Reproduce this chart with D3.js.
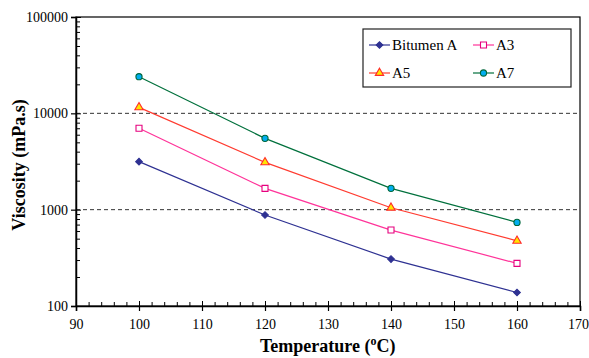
<!DOCTYPE html>
<html><head><meta charset="utf-8">
<script src="https://cdn.jsdelivr.net/npm/d3@7"></script>
<style>body{margin:0;background:#fff}svg{display:block}</style>
</head><body>
<script>
const temps = [100, 120, 140, 160];
const bitumenA = [3150, 880, 307, 138];
const a3 = [6990, 1664, 614, 277];
const a5 = [11540, 3100, 1047, 475];
const a7 = [24000, 5500, 1664, 738];
const seriesNames = ["Bitumen A", "A3", "A5", "A7"];
const xTicks = [90, 100, 110, 120, 130, 140, 150, 160, 170];
const yTicks = [100, 1000, 10000, 100000];
const gridValues = [1000, 10000];

const W = 589, H = 358;
const m = {l: 76, t: 17, r: 580, b: 306};
const serif = "Liberation Serif";
const svg = d3.select("body").append("svg").attr("width", W).attr("height", H)
  .attr("font-family", serif).style("font-family", serif);
const x = d3.scaleLinear().domain([90, 170]).range([m.l, m.r]);
const y = d3.scaleLog().domain([100, 100000]).range([m.b, m.t]);

// grid
svg.selectAll(".grid").data(gridValues).enter().append("line")
  .attr("x1", m.l).attr("x2", m.r).attr("y1", d => y(d)).attr("y2", d => y(d))
  .attr("stroke", "#333").attr("stroke-width", 1).attr("stroke-dasharray", "4,3");

// frame
svg.append("rect").attr("x", m.l).attr("y", m.t).attr("width", m.r - m.l).attr("height", m.b - m.t)
  .attr("fill", "none").attr("stroke", "#000").attr("stroke-width", 1.2);

// y axis major + minor
const yAxis = d3.axisLeft(y).tickValues(yTicks).tickFormat(d3.format("d")).tickSize(5).tickPadding(3);
const gy = svg.append("g").attr("transform", `translate(${m.l},0)`).call(yAxis)
  .attr("font-family", serif).attr("font-size", 14);
gy.select(".domain").attr("stroke-width", 1.5);
gy.selectAll(".tick line").attr("stroke-width", 1.2);
gy.selectAll(".tick text").attr("font-family", serif).style("font-family", serif).style("font-size", "14px").attr("fill", "#000");
const yMinor = [];
for (let dec = 100; dec < 100000; dec *= 10) for (let k = 2; k <= 9; k++) yMinor.push(dec * k);
svg.append("g").attr("transform", `translate(${m.l},0)`)
  .call(d3.axisRight(y).tickValues(yMinor).tickFormat("").tickSize(4))
  .call(g => g.select(".domain").remove());

// x axis
const xAxis = d3.axisBottom(x).tickValues(xTicks).tickFormat(d3.format("d")).tickSize(5).tickPadding(8);
const gx = svg.append("g").attr("transform", `translate(0,${m.b})`).call(xAxis)
  .attr("font-family", serif).attr("font-size", 14);
gx.select(".domain").attr("stroke-width", 1.5);
gx.selectAll(".tick line").attr("stroke-width", 1.2);
gx.selectAll(".tick text").attr("font-family", serif).style("font-family", serif).style("font-size", "14px").attr("fill", "#000")
  .attr("dx", d => d === 170 ? -2 : 0);
svg.append("g").attr("transform", `translate(0,${m.b})`)
  .call(d3.axisTop(x).tickValues(d3.range(90, 171, 2)).tickFormat("").tickSize(4))
  .call(g => g.select(".domain").remove());
svg.append("g").attr("transform", `translate(0,${m.b})`)
  .call(d3.axisTop(x).tickValues(xTicks).tickFormat("").tickSize(5))
  .call(g => g.select(".domain").remove());
svg.append("g").attr("transform", `translate(${m.l},0)`)
  .call(d3.axisRight(y).tickValues(yTicks).tickFormat("").tickSize(5))
  .call(g => g.select(".domain").remove());

// titles
const xt = svg.append("text").attr("x", 260).attr("y", 352).attr("text-anchor", "start")
  .attr("font-family", serif).style("font-family", serif).style("font-size", "18px").style("font-weight", "bold");
xt.append("tspan").text("Temperature (");
xt.append("tspan").text("o").attr("dy", -7).style("font-size", "12px");
xt.append("tspan").text("C)").attr("dy", 7);
svg.append("text").attr("transform", `translate(25,165) rotate(-90)`)
  .attr("text-anchor", "middle").attr("font-family", serif).style("font-family", serif)
  .style("font-size", "18px").style("font-weight", "bold")
  .text("Viscosity (mPa.s)");

const styles = [
  {data: bitumenA, line: "#2E3192", sym: d3.symbolSquare, rot: 45, size: 22, fill: "#2E3192", stroke: "#2E3192"},
  {data: a3, line: "#FF3399", sym: d3.symbolSquare, rot: 0, size: 36, fill: "#fff", stroke: "#E6007E"},
  {data: a5, line: "#FF3B30", sym: d3.symbolTriangle, rot: 0, size: 30, fill: "#FFE600", stroke: "#FF2A2A"},
  {data: a7, line: "#00703C", sym: d3.symbolCircle, rot: 0, size: 30, fill: "#00AEEF", stroke: "#00663A"}
];
const lineGen = d3.line().x((d, i) => x(temps[i])).y(d => y(d));
styles.forEach(s => {
  svg.append("path").attr("d", lineGen(s.data)).attr("fill", "none").attr("stroke", s.line).attr("stroke-width", 1.2);
  svg.selectAll(null).data(s.data).enter().append("path")
    .attr("d", d3.symbol().type(s.sym).size(s.size))
    .attr("transform", (d, i) => `translate(${x(temps[i])},${y(d)}) rotate(${s.rot})`)
    .attr("fill", s.fill).attr("stroke", s.stroke).attr("stroke-width", 1.1);
});

// legend
const lg = svg.append("g");
lg.append("rect").attr("x", 363).attr("y", 29).attr("width", 208).attr("height", 58)
  .attr("fill", "#fff").attr("stroke", "#222").attr("stroke-width", 1.2);
const pos = [[369, 45], [473, 45], [369, 73], [473, 73]];
styles.forEach((s, i) => {
  const [lx, ly] = pos[i];
  lg.append("line").attr("x1", lx).attr("x2", lx + 21).attr("y1", ly).attr("y2", ly).attr("stroke", s.line).attr("stroke-width", 1.2);
  lg.append("path").attr("d", d3.symbol().type(s.sym).size(s.size)).attr("transform", `translate(${lx + 10.5},${ly}) rotate(${s.rot})`)
    .attr("fill", s.fill).attr("stroke", s.stroke).attr("stroke-width", 1.1);
  lg.append("text").attr("x", lx + 23).attr("y", ly + 4.5).attr("font-family", serif).style("font-family", serif)
    .style("font-size", "15px").text(seriesNames[i]);
});
</script>
</body></html>
